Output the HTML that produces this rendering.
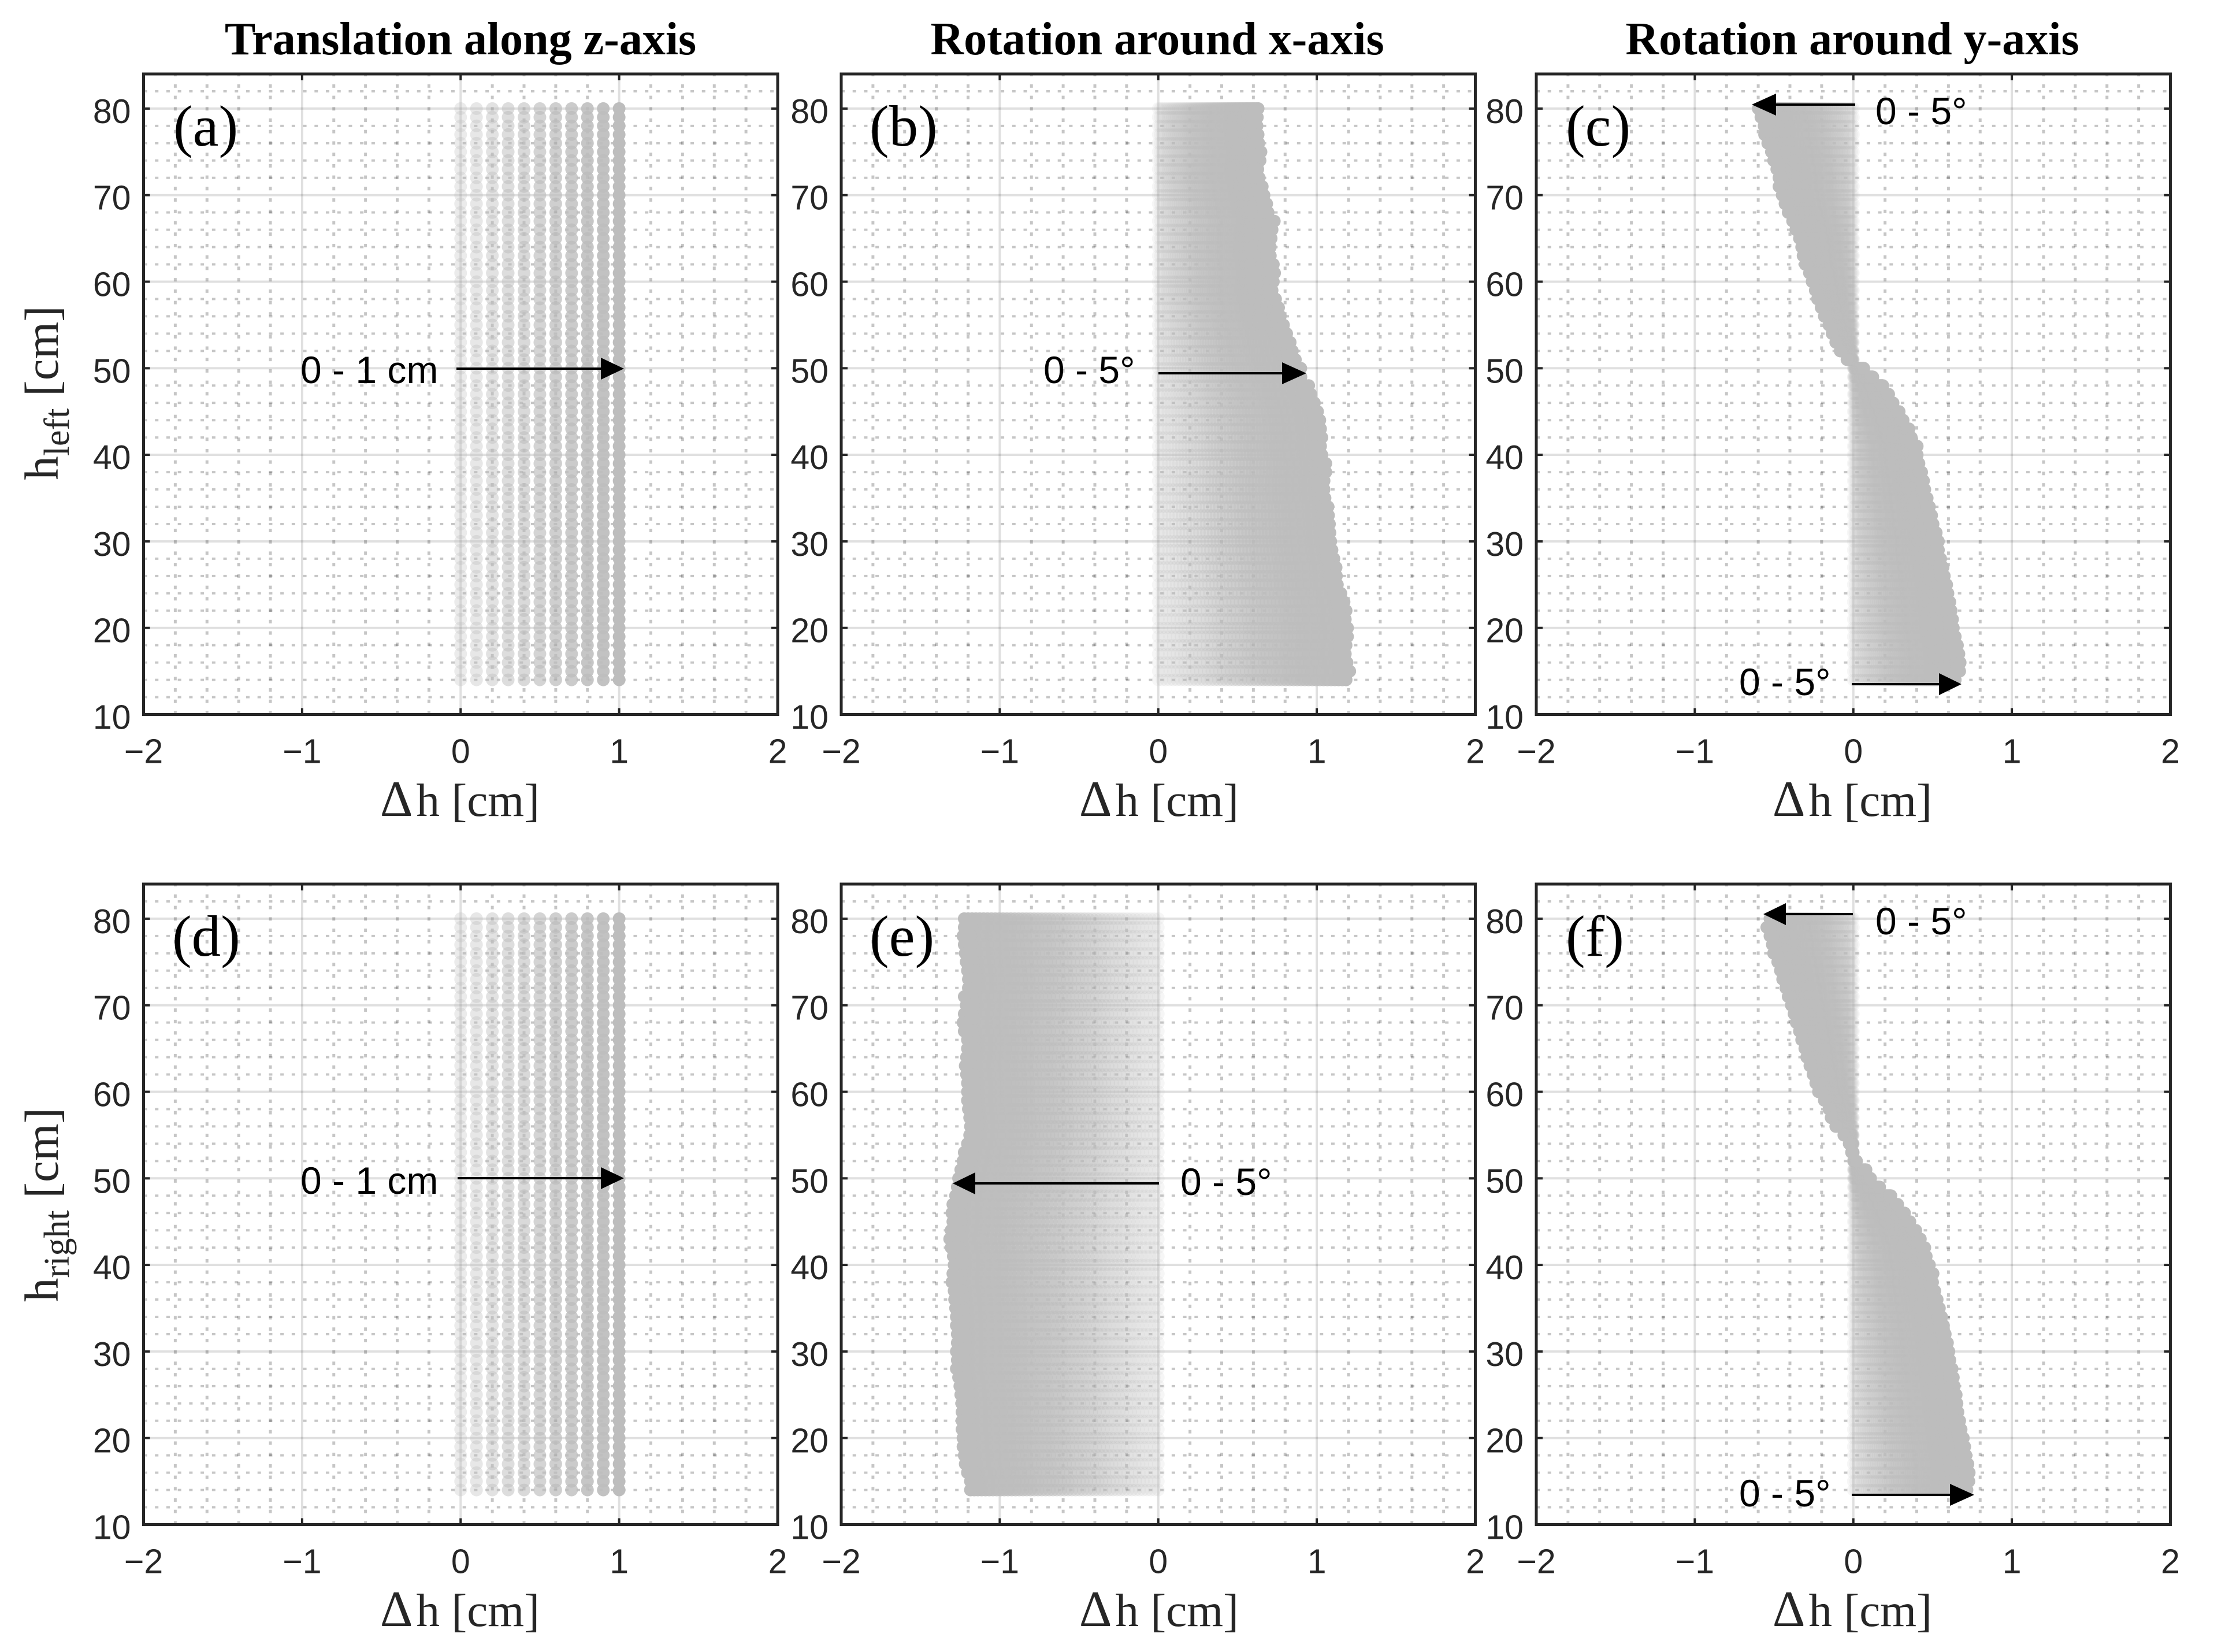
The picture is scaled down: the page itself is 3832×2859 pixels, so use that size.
<!DOCTYPE html>
<html lang="en">
<head>
<meta charset="utf-8">
<title>Height displacement under translation and rotation</title>
<style>
  html,body{margin:0;padding:0;background:#fff;}
  svg{display:block;position:absolute;left:0;top:0;}
  .title{font:bold 80px "Liberation Serif",serif;fill:#000;text-anchor:middle;}
  .xlabel{font:81px "Liberation Serif",serif;fill:#262626;text-anchor:middle;}
  .ylabel{font:83px "Liberation Serif",serif;fill:#262626;text-anchor:middle;}
  .tick{font:59px "Liberation Sans",sans-serif;fill:#262626;}
  .tag{font:101px "Liberation Serif",serif;fill:#000;}
  .note{font:66px "Liberation Sans",sans-serif;fill:#000;}
  .arrow-line{stroke:#000;stroke-width:4;}
</style>
</head>
<body>
<svg id="figure" xmlns="http://www.w3.org/2000/svg" width="3832" height="2859" viewBox="0 0 3832 2859">
  <rect x="0" y="0" width="3832" height="2859" fill="#fff"/>

  <g id="panel-a"></g>
  <g id="panel-b"></g>
  <g id="panel-c"></g>
  <g id="panel-d"></g>
  <g id="panel-e"></g>
  <g id="panel-f"></g>

  <text class="title" x="797" y="94">Translation along z-axis</text>
  <text class="title" x="2003" y="94">Rotation around x-axis</text>
  <text class="title" x="3206" y="94">Rotation around y-axis</text>

  <text class="ylabel" transform="translate(100,680) rotate(-90)">h<tspan font-size="62" dy="19">left</tspan><tspan dy="-19"> [cm]</tspan></text>
  <text class="ylabel" transform="translate(100,2085) rotate(-90)">h<tspan font-size="62" dy="19">right</tspan><tspan dy="-19"> [cm]</tspan></text>

  <text class="xlabel" x="798" y="1412"><tspan font-size="88" dx="-2">Δ</tspan><tspan dx="6">h [cm]</tspan></text>
  <text class="xlabel" x="2008" y="1412"><tspan font-size="88" dx="-2">Δ</tspan><tspan dx="6">h [cm]</tspan></text>
  <text class="xlabel" x="3208" y="1412"><tspan font-size="88" dx="-2">Δ</tspan><tspan dx="6">h [cm]</tspan></text>
  <text class="xlabel" x="798" y="2814"><tspan font-size="88" dx="-2">Δ</tspan><tspan dx="6">h [cm]</tspan></text>
  <text class="xlabel" x="2008" y="2814"><tspan font-size="88" dx="-2">Δ</tspan><tspan dx="6">h [cm]</tspan></text>
  <text class="xlabel" x="3208" y="2814"><tspan font-size="88" dx="-2">Δ</tspan><tspan dx="6">h [cm]</tspan></text>

  <text class="tag" x="300" y="252">(a)</text>
  <text class="tag" x="1505" y="252">(b)</text>
  <text class="tag" x="2710" y="252">(c)</text>
  <text class="tag" x="298" y="1654">(d)</text>
  <text class="tag" x="1505" y="1654">(e)</text>
  <text class="tag" x="2710" y="1654">(f)</text>

  <g>
    <text class="note" x="520" y="663">0 - 1 cm</text>
    <line class="arrow-line" x1="790" y1="638" x2="1050" y2="638"/>
    <polygon points="1080,638 1040,619 1040,657"/>
  </g>
  <g>
    <text class="note" x="1806" y="663">0 - 5°</text>
    <line class="arrow-line" x1="2005" y1="646" x2="2230" y2="646"/>
    <polygon points="2261,646 2219,627 2219,665"/>
  </g>
  <g>
    <text class="note" x="3246" y="215">0 - 5°</text>
    <line class="arrow-line" x1="3211" y1="181" x2="3064" y2="181"/>
    <polygon points="3032,181 3074,162 3074,200"/>
    <text class="note" x="3010" y="1203">0 - 5°</text>
    <line class="arrow-line" x1="3205" y1="1184" x2="3366" y2="1184"/>
    <polygon points="3395,1184 3356,1165 3356,1203"/>
  </g>
  <g>
    <text class="note" x="520" y="2066">0 - 1 cm</text>
    <line class="arrow-line" x1="792" y1="2039" x2="1050" y2="2039"/>
    <polygon points="1080,2039 1040,2020 1040,2058"/>
  </g>
  <g>
    <text class="note" x="2043" y="2068">0 - 5°</text>
    <line class="arrow-line" x1="2006" y1="2048" x2="1678" y2="2048"/>
    <polygon points="1649,2048 1688,2029 1688,2067"/>
  </g>
  <g>
    <text class="note" x="3246" y="1617">0 - 5°</text>
    <line class="arrow-line" x1="3207" y1="1582" x2="3082" y2="1582"/>
    <polygon points="3052,1582 3091,1563 3091,1601"/>
    <text class="note" x="3010" y="2607">0 - 5°</text>
    <line class="arrow-line" x1="3205" y1="2587" x2="3385" y2="2587"/>
    <polygon points="3417,2587 3375,2568 3375,2606"/>
  </g>
</svg>

<script>
// ---- chart data ----
const xTicks = [-2, -1, 0, 1, 2];
const xTickLabels = ['−2', '−1', '0', '1', '2'];
const yTicks = [10, 20, 30, 40, 50, 60, 70, 80];
const yTickLabels = ['10', '20', '30', '40', '50', '60', '70', '80'];
const xMinorTicks = [-1.8, -1.6, -1.4, -1.2, -0.8, -0.6, -0.4, -0.2, 0.2, 0.4, 0.6, 0.8, 1.2, 1.4, 1.6, 1.8];
const yMinorTicks = [12, 14, 16, 18, 22, 24, 26, 28, 32, 34, 36, 38, 42, 44, 46, 48, 52, 54, 56, 58, 62, 64, 66, 68, 72, 74, 76, 78, 82];

// Sensor heights in cm; one row of markers per height.
const heights = [80, 79, 78, 77, 76, 75, 74, 73, 72, 71, 70, 69, 68, 67, 66, 65, 64, 63, 62, 61, 60, 59, 58, 57, 56, 55, 54, 53, 52, 51, 50, 49, 48, 47, 46, 45, 44, 43, 42, 41, 40, 39, 38, 37, 36, 35, 34, 33, 32, 31, 30, 29, 28, 27, 26, 25, 24, 23, 22, 21, 20, 19, 18, 17, 16, 15, 14];

// Panels (a) and (d): translation offsets in cm.
const translationOffsets = [0, 0.1, 0.2, 0.3, 0.4, 0.5, 0.6, 0.7, 0.8, 0.9, 1];

// Panels (b), (c), (e), (f): displacement in cm at 5 degrees, per height.
const rotationLeftX = [0.63, 0.625, 0.623, 0.63, 0.634, 0.648, 0.642, 0.628, 0.637, 0.656, 0.667, 0.684, 0.693, 0.732, 0.718, 0.712, 0.707, 0.707, 0.726, 0.734, 0.726, 0.718, 0.74, 0.759, 0.77, 0.79, 0.81, 0.832, 0.846, 0.865, 0.899, 0.9, 0.949, 0.963, 0.985, 1.005, 1.019, 1.024, 1.032, 1.024, 1.032, 1.057, 1.057, 1.046, 1.046, 1.052, 1.071, 1.074, 1.08, 1.083, 1.088, 1.096, 1.108, 1.122, 1.124, 1.13, 1.152, 1.172, 1.185, 1.18, 1.194, 1.194, 1.185, 1.18, 1.191, 1.208, 1.185];
const rotationLeftY = [-0.6, -0.583, -0.563, -0.56, -0.54, -0.517, -0.503, -0.483, -0.469, -0.469, -0.449, -0.431, -0.411, -0.383, -0.363, -0.34, -0.326, -0.317, -0.303, -0.277, -0.26, -0.24, -0.226, -0.203, -0.183, -0.154, -0.134, -0.111, -0.083, -0.04, 0.066, 0.123, 0.186, 0.223, 0.251, 0.289, 0.314, 0.351, 0.366, 0.403, 0.403, 0.414, 0.431, 0.443, 0.451, 0.466, 0.48, 0.494, 0.503, 0.523, 0.537, 0.537, 0.551, 0.566, 0.574, 0.589, 0.597, 0.609, 0.617, 0.626, 0.631, 0.643, 0.657, 0.666, 0.674, 0.671, 0.643];
const rotationRightX = [-1.224, -1.224, -1.232, -1.224, -1.218, -1.212, -1.204, -1.198, -1.198, -1.224, -1.212, -1.224, -1.232, -1.224, -1.204, -1.204, -1.21, -1.218, -1.21, -1.204, -1.204, -1.204, -1.198, -1.19, -1.185, -1.19, -1.204, -1.224, -1.232, -1.246, -1.26, -1.268, -1.279, -1.296, -1.302, -1.296, -1.307, -1.316, -1.307, -1.293, -1.288, -1.296, -1.302, -1.288, -1.285, -1.279, -1.274, -1.274, -1.268, -1.268, -1.274, -1.268, -1.274, -1.26, -1.252, -1.246, -1.24, -1.238, -1.238, -1.238, -1.232, -1.232, -1.224, -1.218, -1.204, -1.185, -1.185];
const rotationRightY = [-0.526, -0.546, -0.526, -0.511, -0.503, -0.477, -0.46, -0.446, -0.426, -0.411, -0.391, -0.374, -0.36, -0.34, -0.326, -0.306, -0.294, -0.274, -0.254, -0.237, -0.22, -0.183, -0.154, -0.14, -0.111, -0.06, -0.026, -0.011, 0.02, 0.08, 0.109, 0.166, 0.237, 0.28, 0.323, 0.357, 0.394, 0.423, 0.451, 0.46, 0.48, 0.503, 0.5, 0.514, 0.529, 0.543, 0.557, 0.569, 0.58, 0.594, 0.603, 0.609, 0.623, 0.631, 0.637, 0.649, 0.654, 0.66, 0.671, 0.68, 0.694, 0.703, 0.711, 0.723, 0.731, 0.729, 0.717];

// ---- layout ----
const SVG_NS = 'http://www.w3.org/2000/svg';
const X_DOMAIN = [-2, 2];
const Y_DOMAIN = [10, 84];
const PLOT_WIDTH = 1097.5;
const PLOT_HEIGHT = 1108.5;
const DOT_RADIUS = 11;
const DOT_FILL = '#bdbdbd';
const SWEEP_STEPS = 50;

function node(tag, attrs, parent) {
  const el = document.createElementNS(SVG_NS, tag);
  for (const key in attrs) el.setAttribute(key, attrs[key]);
  parent.appendChild(el);
  return el;
}

function makeAxes(left, top) {
  return {
    left, top,
    right: left + PLOT_WIDTH,
    bottom: top + PLOT_HEIGHT,
    x: v => left + (v - X_DOMAIN[0]) / (X_DOMAIN[1] - X_DOMAIN[0]) * PLOT_WIDTH,
    y: v => top + PLOT_HEIGHT - (v - Y_DOMAIN[0]) / (Y_DOMAIN[1] - Y_DOMAIN[0]) * PLOT_HEIGHT
  };
}

function drawGrid(axes, parent) {
  const grid = node('g', {}, parent);
  
  
  xMinorTicks.forEach(v => {
    const line = node('line', { x1: axes.x(v), x2: axes.x(v), y1: axes.bottom, y2: axes.top, stroke: '#000', 'stroke-opacity': 0.225, 'stroke-width': 5, 'stroke-dasharray': '6 13.72' }, grid);
    
    
  });
  yMinorTicks.forEach(v => {
    const line = node('line', { x1: axes.left, x2: axes.right, y1: axes.y(v), y2: axes.y(v), stroke: '#000', 'stroke-opacity': 0.225, 'stroke-width': 4, 'stroke-dasharray': '6 13.72' }, grid);
    
    
  });
  xTicks.slice(1, -1).forEach(v => {
    const line = node('line', { x1: axes.x(v), x2: axes.x(v), y1: axes.top, y2: axes.bottom, stroke: '#000', 'stroke-opacity': 0.12, 'stroke-width': 4 }, grid);
    
    
  });
  yTicks.slice(1).forEach(v => {
    const line = node('line', { x1: axes.left, x2: axes.right, y1: axes.y(v), y2: axes.y(v), stroke: '#000', 'stroke-opacity': 0.12, 'stroke-width': 4 }, grid);
    
    
  });
}

function addDot(parent, cx, cy, alpha) {
  const dot = node('circle', { cx, cy, r: DOT_RADIUS, fill: DOT_FILL, 'fill-opacity': alpha }, parent);
  
  
}

function drawTranslation(axes, parent) {
  const dots = node('g', {}, parent);
  
  
  translationOffsets.forEach((offset, i) => {
    const alpha = 0.3 + 0.7 * i / (translationOffsets.length - 1);
    heights.forEach(h => addDot(dots, axes.x(offset), axes.y(h), alpha));
  });
}

function drawRotation(axes, parent, edge) {
  const dots = node('g', {}, parent);
  
  
  for (let k = 0; k <= SWEEP_STEPS; k++) {
    const t = k / SWEEP_STEPS;
    const alpha = 0.13 + 0.87 * Math.pow(t, 1.5);
    heights.forEach((h, row) => addDot(dots, axes.x(edge[row] * t), axes.y(h), alpha));
  }
}

function drawFrame(axes, parent) {
  const frame = node('g', {}, parent);
  
  
  const color = '#262626';
  const tickLen = 11;
  xTicks.forEach((v, i) => {
    const bottom = node('line', { x1: axes.x(v), x2: axes.x(v), y1: axes.bottom, y2: axes.bottom - tickLen, stroke: color, 'stroke-width': 4 }, frame);
    
    
    const topTick = node('line', { x1: axes.x(v), x2: axes.x(v), y1: axes.top, y2: axes.top + tickLen, stroke: color, 'stroke-width': 4 }, frame);
    
    
    const label = node('text', { class: 'tick', x: axes.x(v), y: axes.bottom + 84, 'text-anchor': 'middle' }, frame);
    label.textContent = xTickLabels[i];
    
    
  });
  yTicks.forEach((v, i) => {
    const leftTick = node('line', { x1: axes.left, x2: axes.left + tickLen, y1: axes.y(v), y2: axes.y(v), stroke: color, 'stroke-width': 4 }, frame);
    
    
    const rightTick = node('line', { x1: axes.right, x2: axes.right - tickLen, y1: axes.y(v), y2: axes.y(v), stroke: color, 'stroke-width': 4 }, frame);
    
    
    const label = node('text', { class: 'tick', x: axes.left - 22, y: axes.y(v) + 25, 'text-anchor': 'end' }, frame);
    label.textContent = yTickLabels[i];
    
    
  });
  const box = node('rect', { x: axes.left, y: axes.top, width: PLOT_WIDTH, height: PLOT_HEIGHT, fill: 'none', stroke: color, 'stroke-width': 5 }, frame);
  
  
}

function buildPanel(id, left, top, drawMarks) {
  const parent = document.getElementById(id);
  const axes = makeAxes(left, top);
  drawGrid(axes, parent);
  drawMarks(axes, parent);
  drawFrame(axes, parent);
}

buildPanel('panel-a', 248.5, 128, (a, p) => drawTranslation(a, p));
buildPanel('panel-b', 1456, 128, (a, p) => drawRotation(a, p, rotationLeftX));
buildPanel('panel-c', 2659, 128, (a, p) => drawRotation(a, p, rotationLeftY));
buildPanel('panel-d', 248.5, 1530, (a, p) => drawTranslation(a, p));
buildPanel('panel-e', 1456, 1530, (a, p) => drawRotation(a, p, rotationRightX));
buildPanel('panel-f', 2659, 1530, (a, p) => drawRotation(a, p, rotationRightY));
</script>
</body>
</html>
